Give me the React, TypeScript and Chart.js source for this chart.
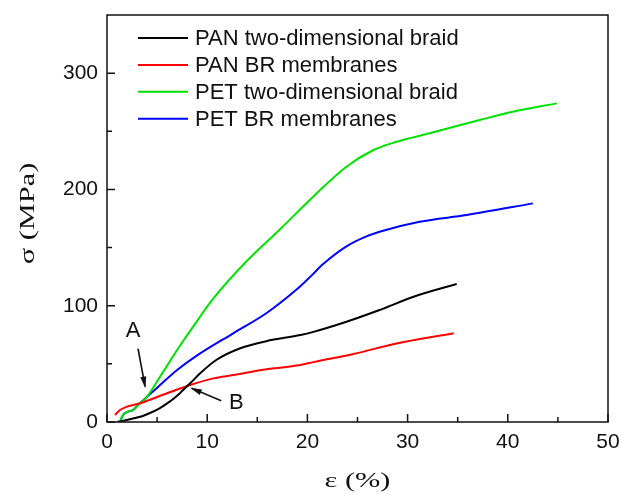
import React, { useEffect, useRef } from "react";
import { Chart, registerables } from "chart.js";
Chart.register(...registerables);

const seriesNames = [
  "PAN two-dimensional braid",
  "PAN BR membranes",
  "PET two-dimensional braid",
  "PET BR membranes",
];
const seriesColors = ["#000000", "#ff0000", "#00e000", "#0000ff"];

const panBraidX = [1.0, 1.3, 2.6, 3.5, 4.3, 5.2, 6.0, 6.7, 7.3, 8.3, 9.3, 10.9, 13.3, 15.9, 19.3, 20.6, 23.9, 27.2, 30.6, 34.9];
const panBraidY = [0, 0.5, 3.0, 5.0, 7.8, 11.5, 16, 20.5, 25, 33.3, 41.9, 53.3, 63.4, 69.5, 74.8, 77.5, 86.2, 96.3, 107.7, 118.7];

const panBrX = [0.8, 1.3, 2.0, 3.3, 6.0, 8.3, 10.6, 12.6, 15.6, 19.3, 20.6, 24.6, 28.9, 34.6];
const panBrY = [6, 10.3, 13.2, 16.1, 24.7, 31.8, 37.5, 40.4, 45, 49, 51.5, 58.5, 67.5, 76.3];

const petBraidX = [1.3, 1.6, 2.1, 2.6, 3.1, 4.0, 5.3, 7.0, 8.6, 10.6, 13.9, 17.3, 20.6, 23.9, 26.6, 28.9, 32.2, 37.2, 40.5, 44.9];
const petBraidY = [0.3, 6, 8.9, 10.3, 14.6, 21.8, 39, 61.9, 82, 106, 138, 166, 194, 219.5, 233.9, 241, 248.3, 259.7, 266.8, 274];

const petBrX = [1.3, 1.6, 2.1, 2.6, 3.1, 4.0, 5.3, 7.0, 9.3, 12.6, 15.9, 18.8, 20.3, 21.6, 23.9, 25.6, 27.2, 31.2, 35.9, 42.5];
const petBrY = [0.3, 6, 8.9, 10.3, 14.6, 21.8, 31.8, 44.7, 59, 76.3, 93.5, 113, 125, 136, 151, 158.5, 163.6, 172.2, 178, 188];

const xTicks = [0, 10, 20, 30, 40, 50];
const yTicks = [0, 100, 200, 300];
const xMinor = [5, 15, 25, 35, 45];
const yMinor = [50, 150, 250];

const xTitle = "ε (%)";
const yTitle = "σ (MPa)";

const annoLabels = ["A", "B"];
const annoText = [[2.6, 79], [12.9, 17.5]];
const annoArrowFrom = [[3.1, 63], [11.4, 18.3]];
const annoArrowTo = [[3.8, 30.4], [8.45, 29]];

const zip = (xs: number[], ys: number[]) => xs.map((x, i) => ({ x, y: ys[i] }));

const SANS = "'Liberation Sans', Arial, sans-serif";
const SERIF = "'Liberation Serif', 'Times New Roman', serif";

const decor = {
  id: "decor",
  afterDraw(chart: any) {
    const { ctx, chartArea: a, scales } = chart;
    const xs = scales.x, ys = scales.y;
    ctx.save();
    ctx.strokeStyle = "#111";
    ctx.lineWidth = 1.5;
    ctx.strokeRect(a.left, a.top, a.right - a.left, a.bottom - a.top);
    ctx.beginPath();
    xTicks.forEach((v) => { const p = xs.getPixelForValue(v); ctx.moveTo(p, a.bottom); ctx.lineTo(p, a.bottom - 8); });
    xMinor.forEach((v) => { const p = xs.getPixelForValue(v); ctx.moveTo(p, a.bottom); ctx.lineTo(p, a.bottom - 5); });
    yTicks.forEach((v) => { const p = ys.getPixelForValue(v); ctx.moveTo(a.left, p); ctx.lineTo(a.left + 8, p); });
    yMinor.forEach((v) => { const p = ys.getPixelForValue(v); ctx.moveTo(a.left, p); ctx.lineTo(a.left + 5, p); });
    ctx.stroke();

    // legend
    ctx.font = "22px " + SANS;
    ctx.textBaseline = "middle";
    ctx.textAlign = "left";
    seriesNames.forEach((n, i) => {
      const y = a.top + 23 + i * 26.9;
      ctx.strokeStyle = seriesColors[i];
      ctx.lineWidth = 2;
      ctx.beginPath();
      ctx.moveTo(a.left + 31, y);
      ctx.lineTo(a.left + 81, y);
      ctx.stroke();
      ctx.fillStyle = "#111";
      ctx.fillText(n, a.left + 88, y + 1);
    });

    // annotations
    ctx.font = "22px " + SANS;
    ctx.textAlign = "center";
    annoLabels.forEach((l, i) => {
      ctx.fillStyle = "#111";
      ctx.fillText(l, xs.getPixelForValue(annoText[i][0]), ys.getPixelForValue(annoText[i][1]) + 1);
      const x1 = xs.getPixelForValue(annoArrowFrom[i][0]), y1 = ys.getPixelForValue(annoArrowFrom[i][1]);
      const x2 = xs.getPixelForValue(annoArrowTo[i][0]), y2 = ys.getPixelForValue(annoArrowTo[i][1]);
      ctx.strokeStyle = "#111";
      ctx.lineWidth = 1.6;
      ctx.beginPath();
      ctx.moveTo(x1, y1);
      ctx.lineTo(x2, y2);
      ctx.stroke();
      const ang = Math.atan2(y2 - y1, x2 - x1);
      const L = 10, W = 3;
      ctx.beginPath();
      ctx.moveTo(x2 + 1.5 * Math.cos(ang), y2 + 1.5 * Math.sin(ang));
      ctx.lineTo(x2 - L * Math.cos(ang) + W * Math.sin(ang), y2 - L * Math.sin(ang) - W * Math.cos(ang));
      ctx.lineTo(x2 - L * Math.cos(ang) - W * Math.sin(ang), y2 - L * Math.sin(ang) + W * Math.cos(ang));
      ctx.closePath();
      ctx.fill();
    });

    // titles (stretched along the text direction as in the reference)
    ctx.fillStyle = "#111";
    ctx.font = "22px " + SERIF;
    ctx.textAlign = "center";
    ctx.save();
    ctx.translate(357.5, 481);
    ctx.scale(1.38, 1);
    ctx.fillText(xTitle, 0, 0);
    ctx.restore();
    ctx.save();
    ctx.translate(28, 213.5);
    ctx.rotate(-Math.PI / 2);
    ctx.scale(1.38, 1);
    ctx.fillText(yTitle, 0, 0);
    ctx.restore();
    ctx.restore();
  },
};

export default function App() {
  const ref = useRef<HTMLCanvasElement>(null);
  useEffect(() => {
    const allX = [panBraidX, panBrX, petBraidX, petBrX];
    const allY = [panBraidY, panBrY, petBraidY, petBrY];
    const chart = new Chart(ref.current!, {
      type: "scatter",
      data: {
        datasets: seriesNames.map((n, i) => ({
          label: n,
          data: zip(allX[i], allY[i]),
          showLine: true,
          borderColor: seriesColors[i],
          backgroundColor: seriesColors[i],
          borderWidth: 2,
          pointRadius: 0,
          cubicInterpolationMode: "monotone" as const,
        })),
      },
      options: {
        animation: false,
        responsive: false,
        maintainAspectRatio: false,
        layout: { padding: { top: 15, right: 14, left: 0, bottom: 0 } },
        plugins: { legend: { display: false }, tooltip: { enabled: false } },
        scales: {
          x: {
            type: "linear",
            min: 0,
            max: 50,
            afterBuildTicks: (s: any) => { s.ticks = xTicks.map((v) => ({ value: v })); },
            afterFit: (s: any) => { s.height = 74; s.paddingLeft = 0; s.paddingRight = 0; },
            grid: { display: false },
            border: { display: false },
            ticks: { color: "#111", padding: 0, font: { size: 21, family: SANS } },
          },
          y: {
            type: "linear",
            min: 0,
            max: 350,
            afterBuildTicks: (s: any) => { s.ticks = yTicks.map((v) => ({ value: v })); },
            afterFit: (s: any) => { s.width = 107; s.paddingTop = 0; s.paddingBottom = 0; },
            grid: { display: false },
            border: { display: false },
            ticks: { color: "#111", padding: 1, font: { size: 21, family: SANS } },
          },
        },
      },
      plugins: [decor],
    });
    return () => chart.destroy();
  }, []);
  return (
    <div style={{ position: "fixed", left: 0, top: 0, width: 622, height: 496, background: "#fff" }}>
      <canvas ref={ref} width={622} height={496} style={{ width: 622, height: 496 }} />
    </div>
  );
}
